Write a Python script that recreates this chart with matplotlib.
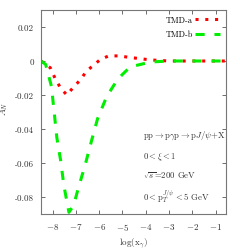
import numpy as np
import matplotlib
matplotlib.use('Agg')
import matplotlib.pyplot as plt
import matplotlib.ticker as ticker

# Curves
x_a = [-8.5, -8.1, -7.87, -7.65, -7.39, -7.08, -6.8, -6.55, -6.2, -5.94,
       -5.59, -5.2, -4.84, -4.5, -4.14, -3.75, -3.0, -2.0, -1.0, -0.5]
a_n_a = [0.0, -0.004, -0.011, -0.016, -0.020, -0.015, -0.011, -0.006, -0.002, 0.001,
         0.003, 0.003, 0.0024, 0.0018, 0.0012, 0.0006, 0.0, 0.0, 0.0, 0.0]

x_b = [-8.5, -8.3, -8.05, -7.82, -7.65, -7.52, -7.3, -7.1, -6.9, -6.6, -6.33,
       -6.07, -5.68, -5.2, -4.67, -3.8, -3.0, -2.0, -1.0, -0.5]
a_n_b = [0.0, -0.002, -0.015, -0.045, -0.059, -0.073, -0.089, -0.085, -0.075, -0.061, -0.047,
         -0.034, -0.021, -0.0106, -0.0035, -0.0006, 0.0, 0.0, 0.0, 0.0]

plt.rcParams['font.family'] = 'serif'
plt.rcParams['font.serif'] = ['cmr10']
plt.rcParams['mathtext.fontset'] = 'cm'
plt.rcParams['axes.formatter.use_mathtext'] = True

fig = plt.figure(figsize=(2.4, 2.51), dpi=100)
ax = fig.add_axes([41/240, 36/251, 185/240, 204/251])

ax.plot(x_a, a_n_a, color='#ff0000', linestyle=(0, (1, 2.2)), linewidth=2.2, label='TMD-a')
ax.plot(x_b, a_n_b, color='#00ee00', linestyle=(0, (3, 3.2)), linewidth=2.2, label='TMD-b')

ax.set_xlim(-8.5, -0.55)
ax.set_ylim(-0.09, 0.03)
ax.xaxis.set_major_locator(ticker.MultipleLocator(1))
ax.yaxis.set_major_locator(ticker.MultipleLocator(0.02))
ax.yaxis.set_major_formatter(ticker.FuncFormatter(lambda v, p: '0' if abs(v) < 1e-9 else '%.2f' % v))
ax.tick_params(direction='in', top=True, right=True, labelsize=6.5, length=3, width=0.6,
               color='#555555', labelcolor='#333333', pad=5)
for s in ax.spines.values():
    s.set_color('#777777')
    s.set_linewidth(0.8)

ax.set_xlabel(r'$\log(\mathrm{x}_\gamma)$', fontsize=6.5, color='#333333')
ax.set_ylabel(r'$A_N$', fontsize=6.5, color='#333333')
ax.xaxis.set_label_coords(0.5, -0.105)
ax.yaxis.set_label_coords(-0.165, 0.52)

ax.legend(loc='upper right', frameon=False, fontsize=6, handlelength=3.0,
          borderaxespad=0.3, labelspacing=0.7, markerfirst=False, handletextpad=0.3)

kw = dict(transform=ax.transAxes, fontsize=6.3, color='#333333')
ax.text(0.995, 0.39, r'$\mathrm{pp}\rightarrow\mathrm{p}\gamma\mathrm{p}\rightarrow\mathrm{p}J/\psi\mathrm{+X}$', ha='right', va='center', **kw)
ax.text(0.55, 0.285, r'$0<\xi<1$', ha='left', va='center', **kw)
ax.text(0.55, 0.195, r'$\sqrt{s}$=200 GeV', ha='left', va='center', **kw)
ax.text(0.55, 0.09, r'$0<\mathrm{p}_T^{J/\psi}<5$ GeV', ha='left', va='center', **kw)

plt.savefig('out.png', dpi=100)
